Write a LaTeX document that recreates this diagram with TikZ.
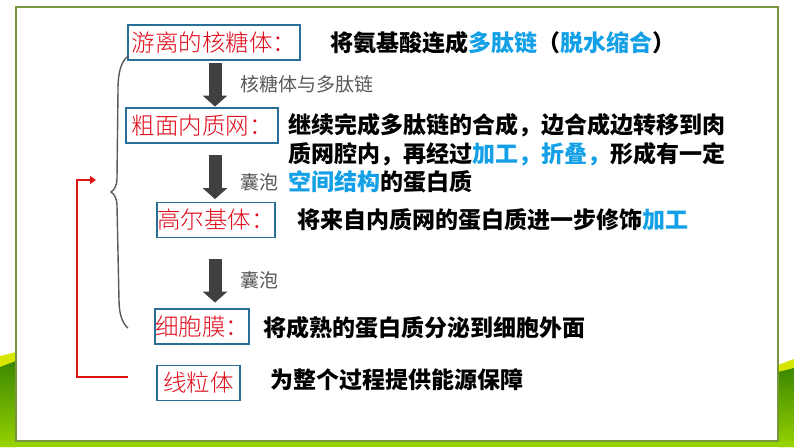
\documentclass[tikz,border=0pt]{standalone}
\usepackage{fontspec}
\newfontfamily\cjk{Noto Sans CJK SC}
\newfontfamily\cjkl{Noto Sans CJK SC Light}
\usetikzlibrary{arrows.meta}
\definecolor{lblred}{RGB}{225,10,25}
\definecolor{boxblue}{RGB}{40,110,150}
\definecolor{hlblue}{RGB}{20,160,230}
\definecolor{arrgray}{RGB}{64,64,64}
\definecolor{txtgray}{RGB}{90,90,90}
\definecolor{gdark}{RGB}{60,135,0}
\definecolor{glight}{RGB}{150,210,0}
\definecolor{gyellow}{RGB}{215,230,0}
\definecolor{framecol}{RGB}{120,150,60}
\definecolor{linered}{RGB}{220,20,20}
\newcommand{\hl}[1]{\textcolor{hlblue}{#1}}
\begin{document}
\begin{tikzpicture}[x=1pt,y=-1pt,
 organelle/.style={draw=boxblue, line width=1.8pt, fill=white, text=lblred, inner sep=0pt, minimum height=35pt, font=\cjkl\fontsize{23.5}{28}\selectfont},
 desc/.style={anchor=west, inner sep=0pt, align=left, font=\cjk\bfseries\fontsize{23}{28.5}\selectfont},
 flowlbl/.style={anchor=west, inner sep=0pt, text=txtgray, font=\cjk\fontsize{19}{22}\selectfont},
 blockarrow/.style={draw=arrgray, line width=13pt, -{Triangle[width=24pt,length=11pt]}},
 bracestyle/.style={draw=txtgray, line width=1.4pt},
 redline/.style={draw=linered, line width=2.2pt, -{Triangle[width=8pt,length=6pt]}}]
\useasboundingbox (0,0) rectangle (794,447);
% background
\fill[white] (0,0) rectangle (794,447);
\fill[gyellow] (0,356) -- (16,352) -- (16,447) -- (0,447) -- cycle;
\shade[top color=gdark, bottom color=glight] (0,367) -- (16,361) -- (16,447) -- (0,447) -- cycle;
\fill[gyellow] (778,365) -- (794,359) -- (794,447) -- (778,447) -- cycle;
\shade[top color=gdark, bottom color=glight] (778,372) -- (794,368) -- (794,447) -- (778,447) -- cycle;
\fill[glight] (0,441) rectangle (794,447);
\draw[framecol, fill=white, line width=1.2pt] (16,7) rectangle (778,441);
% organelle boxes
\node[organelle, minimum width=172pt] (b1) at (214,42.5) {游离的核糖体：};
\node[organelle, minimum width=152pt] (b2) at (202,125.5) {粗面内质网：};
\node[organelle, minimum width=118pt] (b3) at (216,220) {高尔基体：};
\node[organelle, minimum width=94pt] (b4) at (202,326.5) {细胞膜：};
\node[organelle, minimum width=83pt] (b5) at (198.5,383) {线粒体};
% block arrows
\coordinate (ax) at (215,0);
\draw[blockarrow, shorten <=2.5pt, shorten >=0.5pt] (b1.south -| ax) -- (b2.north -| ax);
\draw[blockarrow, shorten <=11.5pt, shorten >=2.5pt] (b2.south -| ax) -- (b3.north -| ax);
\draw[blockarrow, shorten <=20.5pt, shorten >=5.5pt] (b3.south -| ax) -- (b4.north -| ax);
% arrow labels
\node[flowlbl] (l1) at (240,84) {核糖体与多肽链};
\node[flowlbl] (l2) at (240,182) {囊泡};
\node[flowlbl] (l3) at (240,280) {囊泡};
% descriptions
\node[desc] (d1) at (330,43) {将氨基酸连成\hl{多肽链}（\hl{脱水缩合}）};
\node[desc] (d2) at (288,153.5) {继续完成多肽链的合成，边合成边转移到肉\\质网腔内，再经过\hl{加工，折叠，}形成有一定\\\hl{空间结构}的蛋白质};
\node[desc] (d3) at (297,220) {将来自内质网的蛋白质进一步修饰\hl{加工}};
\node[desc] (d4) at (263,328) {将成熟的蛋白质分泌到细胞外面};
\node[desc] (d5) at (270,380) {为整个过程提供能源保障};
% brace
\draw[bracestyle] (128,56) .. controls (121,62) and (118,72) .. (118,90) -- (117,178) .. controls (117,186) and (114,190) .. (111,192) .. controls (114,194) and (117,198) .. (117,206) -- (119,300) .. controls (119,315) and (123,324) .. (128,328);
% red feedback line
\coordinate (r0) at (128,377);
\coordinate (r1) at (77,377);
\coordinate (r2) at (77,180);
\coordinate (r3) at (96,180);
\draw[redline] (r0) -- (r1) -- (r2) -- (r3);
\end{tikzpicture}
\end{document}
